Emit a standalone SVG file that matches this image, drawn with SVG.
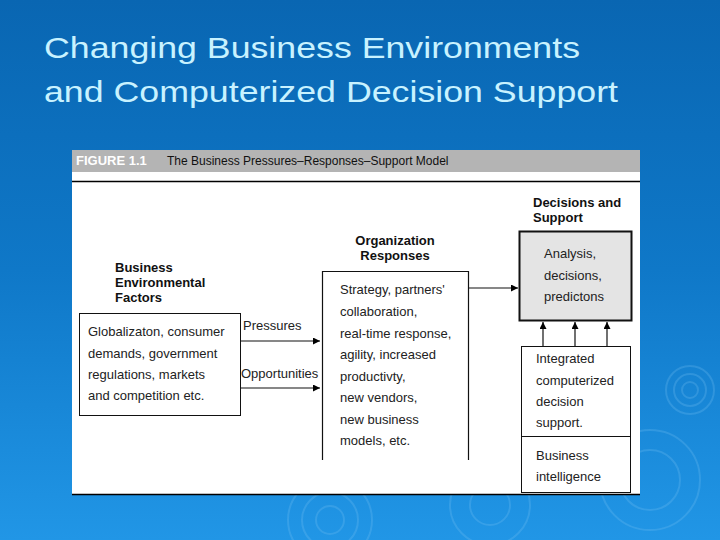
<svg xmlns="http://www.w3.org/2000/svg" width="720" height="540" viewBox="0 0 720 540">
<defs>
<linearGradient id="bg" x1="0" y1="0" x2="0" y2="1">
<stop offset="0" stop-color="#0966b2"/>
<stop offset="0.5" stop-color="#0f78c8"/>
<stop offset="1" stop-color="#2196e6"/>
</linearGradient>
<marker id="ah" viewBox="0 0 10 10" refX="10" refY="5" markerWidth="7" markerHeight="7" markerUnits="userSpaceOnUse" orient="auto">
<path d="M0,0 L10,5 L0,10 z" fill="#000"/>
</marker>
<style>
.title{font-family:"Liberation Sans",Arial,sans-serif;font-size:30px;fill:#c8f2ff}
.t{font-family:"Liberation Sans",Arial,sans-serif;font-size:13px;fill:#222}
.b{font-family:"Liberation Sans",Arial,sans-serif;font-size:13px;font-weight:bold;fill:#111}
.box{fill:#fff;stroke:#111;stroke-width:1}
.ln{stroke:#111;stroke-width:1.2;fill:none}
.ring{fill:none;stroke:#7cc4f5;stroke-opacity:0.25;stroke-width:2}
</style>
</defs>
<rect width="720" height="540" fill="url(#bg)"/>
<g id="rings">
<circle class="ring" cx="690" cy="390" r="8"/><circle class="ring" cx="690" cy="390" r="16"/><circle class="ring" cx="690" cy="390" r="24"/>
<circle class="ring" cx="330" cy="520" r="14"/><circle class="ring" cx="330" cy="520" r="28"/><circle class="ring" cx="330" cy="520" r="42"/>
<circle class="ring" cx="490" cy="505" r="20"/><circle class="ring" cx="490" cy="505" r="40"/>
<circle class="ring" cx="650" cy="480" r="30"/><circle class="ring" cx="650" cy="480" r="50"/>
</g>
<g id="title">
<text class="title" x="44" y="58" textLength="536" lengthAdjust="spacingAndGlyphs">Changing Business Environments</text>
<text class="title" x="44" y="102" textLength="574" lengthAdjust="spacingAndGlyphs">and Computerized Decision Support</text>
</g>
<g id="figure">
<rect x="72" y="150" width="568" height="345" fill="#fff"/>
<rect x="72" y="150" width="568" height="22" fill="#b4b4b4"/>
<text x="76" y="165" font-family="'Liberation Sans',Arial,sans-serif" font-size="13" font-weight="bold" fill="#fff">FIGURE 1.1</text>
<text x="167" y="165" font-family="'Liberation Sans',Arial,sans-serif" font-size="12" fill="#111">The Business Pressures–Responses–Support Model</text>
<line x1="72" y1="181.5" x2="640" y2="181.5" stroke="#000" stroke-width="1.5"/>
<line x1="72" y1="494.5" x2="640" y2="494.5" stroke="#000" stroke-width="1.5"/>
</g>
<g id="env">
<text class="b" x="115" y="272">Business</text>
<text class="b" x="115" y="287">Environmental</text>
<text class="b" x="115" y="302">Factors</text>
<rect class="box" x="79.5" y="313.5" width="161" height="102"/>
<text class="t" x="88" y="336">Globalizaton, consumer</text>
<text class="t" x="88" y="358">demands, government</text>
<text class="t" x="88" y="379">regulations, markets</text>
<text class="t" x="88" y="400">and competition etc.</text>
</g>
<g id="responses">
<text class="b" x="395" y="245" text-anchor="middle">Organization</text>
<text class="b" x="395" y="260" text-anchor="middle">Responses</text>
<path class="ln" d="M322.5,460 V271.5 H468.5 V460" stroke-width="1"/>
<text class="t" x="340" y="294">Strategy, partners'</text>
<text class="t" x="340" y="316">collaboration,</text>
<text class="t" x="340" y="338">real-time response,</text>
<text class="t" x="340" y="359">agility, increased</text>
<text class="t" x="340" y="381">productivty,</text>
<text class="t" x="340" y="402">new vendors,</text>
<text class="t" x="340" y="424">new business</text>
<text class="t" x="340" y="445">models, etc.</text>
</g>
<g id="decisions">
<text class="b" x="533" y="207">Decisions and</text>
<text class="b" x="533" y="222">Support</text>
<rect x="519.5" y="231.5" width="112" height="89" fill="#e4e4e4" stroke="#111" stroke-width="2"/>
<text class="t" x="544" y="258">Analysis,</text>
<text class="t" x="544" y="280">decisions,</text>
<text class="t" x="544" y="301">predictons</text>
</g>
<g id="support">
<rect class="box" x="521.5" y="346.5" width="109" height="146"/>
<line x1="521.5" y1="436.5" x2="630.5" y2="436.5" stroke="#111" stroke-width="1"/>
<text class="t" x="536" y="363">Integrated</text>
<text class="t" x="536" y="385">computerized</text>
<text class="t" x="536" y="406">decision</text>
<text class="t" x="536" y="427">support.</text>
<text class="t" x="536" y="460">Business</text>
<text class="t" x="536" y="481">intelligence</text>
</g>
<g id="connectors">
<line class="ln" x1="241" y1="341" x2="320" y2="341" marker-end="url(#ah)"/>
<text class="t" x="243" y="330">Pressures</text>
<line class="ln" x1="241" y1="388" x2="320" y2="388" marker-end="url(#ah)"/>
<text class="t" x="241" y="378">Opportunities</text>
<line class="ln" x1="469" y1="288" x2="518" y2="288" marker-end="url(#ah)"/>
<line class="ln" x1="543" y1="346" x2="543" y2="322" marker-end="url(#ah)"/>
<line class="ln" x1="575" y1="346" x2="575" y2="322" marker-end="url(#ah)"/>
<line class="ln" x1="607" y1="346" x2="607" y2="322" marker-end="url(#ah)"/>
</g>
</svg>
